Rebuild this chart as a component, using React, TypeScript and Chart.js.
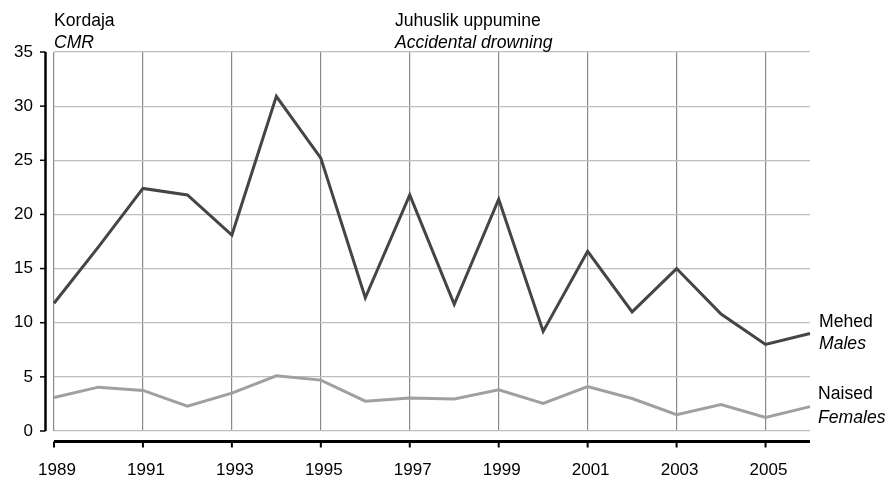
import React, { useEffect, useRef } from "react";
import { Chart, registerables } from "chart.js";

Chart.register(...registerables);

const years = ["1989","1990","1991","1992","1993","1994","1995","1996","1997","1998","1999","2000","2001","2002","2003","2004","2005","2006"];
const males = [11.8, 17.0, 22.4, 21.8, 18.1, 30.9, 25.2, 12.3, 21.8, 11.7, 21.4, 9.2, 16.6, 11.0, 15.0, 10.8, 8.0, 9.0];
const females = [3.1, 4.05, 3.75, 2.3, 3.5, 5.1, 4.7, 2.75, 3.05, 2.95, 3.8, 2.55, 4.1, 3.0, 1.5, 2.45, 1.25, 2.25];
const yTickValues = [0, 5, 10, 15, 20, 25, 30, 35];

const titleLeft = ["Kordaja", "CMR"];
const titleCenter = ["Juhuslik uppumine", "Accidental drowning"];
const malesLabel = ["Mehed", "Males"];
const femalesLabel = ["Naised", "Females"];

const FONT = '"Liberation Sans", Arial, sans-serif';

const decorPlugin = {
  id: "decor",
  afterDraw(chart: any) {
    const { ctx, chartArea, scales } = chart;
    const x = scales.x;
    const y = scales.y;
    ctx.save();
    ctx.strokeStyle = "#000";
    // y axis (offset)
    const ax = chartArea.left - 8.5;
    ctx.lineWidth = 2.5;
    ctx.beginPath();
    ctx.moveTo(ax, y.getPixelForValue(35));
    ctx.lineTo(ax, y.getPixelForValue(0));
    ctx.stroke();
    ctx.lineWidth = 1.5;
    for (const v of yTickValues) {
      const py = y.getPixelForValue(v);
      ctx.beginPath();
      ctx.moveTo(ax - 5.5, py);
      ctx.lineTo(ax, py);
      ctx.stroke();
    }
    // x axis (offset)
    const ay = chartArea.bottom + 10.5;
    ctx.lineWidth = 3;
    ctx.beginPath();
    ctx.moveTo(chartArea.left, ay);
    ctx.lineTo(chartArea.right, ay);
    ctx.stroke();
    ctx.lineWidth = 2;
    years.forEach((yr, i) => {
      if (i % 2 !== 0) return;
      const px = x.getPixelForValue(i);
      ctx.beginPath();
      ctx.moveTo(px, ay);
      ctx.lineTo(px, ay + 6);
      ctx.stroke();
    });
    // texts
    ctx.fillStyle = "#000";
    ctx.textAlign = "left";
    ctx.textBaseline = "alphabetic";
    ctx.font = `17.6px ${FONT}`;
    ctx.fillText(titleLeft[0], chartArea.left, 26);
    ctx.fillText(titleCenter[0], 395, 26);
    ctx.font = `italic 17.6px ${FONT}`;
    ctx.fillText(titleLeft[1], chartArea.left, 48);
    ctx.fillText(titleCenter[1], 395, 48);

    const lx = chartArea.right + 9;
    const my = y.getPixelForValue(males[males.length - 1]);
    const fy = y.getPixelForValue(females[females.length - 1]);
    ctx.font = `17.6px ${FONT}`;
    ctx.fillText(malesLabel[0], lx, my - 7);
    ctx.fillText(femalesLabel[0], lx - 1, fy - 7.5);
    ctx.font = `italic 17.6px ${FONT}`;
    ctx.fillText(malesLabel[1], lx, my + 15.5);
    ctx.fillText(femalesLabel[1], lx - 1, fy + 16.5);
    ctx.restore();
  },
};

export default function App() {
  const ref = useRef<HTMLCanvasElement | null>(null);
  useEffect(() => {
    document.body.style.margin = "0";
    const canvas = ref.current;
    if (!canvas) return;
    const chart = new Chart(canvas, {
      type: "line",
      data: {
        labels: years,
        datasets: [
          {
            label: "Males",
            data: males,
            borderColor: "#454545",
            borderWidth: 3,
            pointRadius: 0,
            tension: 0,
            fill: false,
          },
          {
            label: "Females",
            data: females,
            borderColor: "#a0a0a0",
            borderWidth: 3,
            pointRadius: 0,
            tension: 0,
            fill: false,
          },
        ],
      },
      options: {
        responsive: false,
        animation: false,
        events: [],
        layout: { padding: { top: 52, right: 83, left: 0, bottom: 0 } },
        plugins: {
          legend: { display: false },
          tooltip: { enabled: false },
          title: { display: false },
        },
        scales: {
          x: {
            type: "category",
            offset: false,
            border: { display: false },
            grid: {
              drawTicks: false,
              color: (c: any) => (c.index % 2 === 0 ? "#8a8a8a" : "rgba(0,0,0,0)"),
              lineWidth: 1.2,
            },
            ticks: {
              autoSkip: false,
              maxRotation: 0,
              padding: 29,
              labelOffset: 3,
              color: "#000",
              font: { family: FONT, size: 17 },
              callback: (_v: any, i: number) => (i % 2 === 0 ? years[i] : ""),
            },
            afterFit: (s: any) => {
              s.height = 50;
            },
          },
          y: {
            min: 0,
            max: 35,
            border: { display: false },
            grid: { drawTicks: false, color: "#bdbdbd", lineWidth: 1.2 },
            ticks: {
              stepSize: 5,
              padding: 21,
              color: "#000",
              font: { family: FONT, size: 17 },
            },
            afterFit: (s: any) => {
              s.width = 54;
            },
          },
        },
      },
      plugins: [decorPlugin],
    });
    return () => chart.destroy();
  }, []);
  return (
    <div style={{ width: 893, height: 481 }}>
      <canvas ref={ref} width={893} height={481} />
    </div>
  );
}
